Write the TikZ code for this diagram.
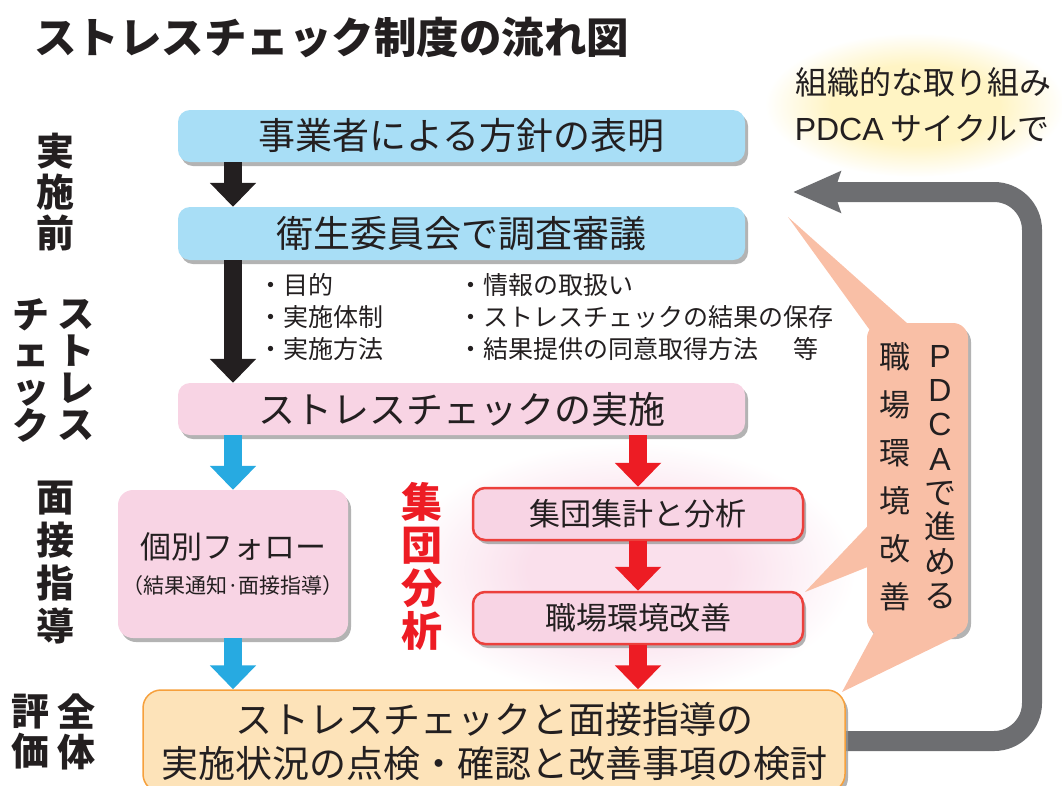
\documentclass[tikz,border=0pt]{standalone}
\usepackage{fontspec}
\setmainfont{Noto Sans CJK JP}
\newfontfamily\latinsans{Liberation Sans}
\usetikzlibrary{arrows.meta,shadows}
\definecolor{ink}{RGB}{35,31,32}
\definecolor{bluebox}{RGB}{168,222,246}
\definecolor{pinkbox}{RGB}{248,212,228}
\definecolor{redline}{RGB}{236,64,60}
\definecolor{arrred}{RGB}{237,28,36}
\definecolor{arrblue}{RGB}{39,170,225}
\definecolor{arrblack}{RGB}{35,31,32}
\definecolor{orfill}{RGB}{253,227,185}
\definecolor{orline}{RGB}{246,160,60}
\definecolor{salmon}{RGB}{249,191,166}
\definecolor{loopgrey}{RGB}{109,110,113}
\definecolor{glowyel}{RGB}{255,244,196}
\definecolor{glowpink}{RGB}{250,224,236}
\newcommand\fsz[1]{\fontsize{#1}{#1}\selectfont}
\pgfdeclareradialshading{glowy}{\pgfpointorigin}{color(0bp)=(glowyel); color(14bp)=(glowyel); color(25bp)=(white); color(50bp)=(white)}
\pgfdeclareradialshading{glowp}{\pgfpointorigin}{color(0bp)=(glowpink); color(11bp)=(glowpink); color(25bp)=(white); color(50bp)=(white)}
\pgfdeclarelayer{bg}
\pgfsetlayers{bg,main}
\tikzset{
  shadowed/.style={drop shadow={shadow xshift=3pt,shadow yshift=-4pt,fill=black!40,opacity=.75}},
  flowbox/.style={rounded corners=12pt, inner sep=0pt, text=ink, shadowed},
  blockarrow/.style={line width=18pt, -{Triangle[length=24pt,width=45pt]}},
  vlabel/.style={align=center, inner sep=0pt, text=ink},
  txt/.style={inner sep=0pt, text=ink},
}
\begin{document}
\begin{tikzpicture}[x=1pt,y=-1pt]
\useasboundingbox (0,0) rectangle (1062,785);

% title
\node[txt, anchor=west, font=\fsz{42.5}\bfseries] (title) at (34,38) {ストレスチェック制度の流れ図};

% top-right text
\node[txt, font=\fsz{32}] (tr1) at (923,82) {組織的な取り組み};
\node[txt, font=\fsz{32}] (tr2) at (922,128) {{\latinsans PDCA} サイクルで};

% main boxes
\node[flowbox, fill=bluebox, minimum width=567pt, minimum height=52pt, font=\fsz{37}] (b1) at (461.5,136) {事業者による方針の表明};
\node[flowbox, fill=bluebox, minimum width=567pt, minimum height=53pt, font=\fsz{37}] (b2) at (461.5,233.5) {衛生委員会で調査審議};
\node[flowbox, fill=pinkbox, minimum width=567pt, minimum height=52pt, font=\fsz{37}] (b3) at (461.5,409) {ストレスチェックの実施};

\node[flowbox, fill=pinkbox, rounded corners=15pt, minimum width=230pt, minimum height=148pt, align=center, font=\fontsize{21}{35}\selectfont] (ind) at (233,564) {{\fsz{31}個別フォロー}\\（結果通知·面接指導）};

\node[flowbox, fill=pinkbox, draw=redline, line width=2.5pt, minimum width=330pt, minimum height=52pt, font=\fsz{31}] (g1) at (638,514) {集団集計と分析};
\node[flowbox, fill=pinkbox, draw=redline, line width=2.5pt, minimum width=330pt, minimum height=52pt, font=\fsz{31}] (g2) at (638,618) {職場環境改善};

\node[flowbox, fill=orfill, draw=orline, line width=1.5pt, rounded corners=18pt, minimum width=702pt, minimum height=102pt, align=center, font=\fontsize{37}{44}\selectfont] (bot) at (494,741) {ストレスチェックと面接指導の\\実施状況の点検・確認と改善事項の検討};

% bullet lists
\node[txt, anchor=west, align=left, font=\fontsize{25}{32}\selectfont] (lstL) at (258,317) {・目的\\・実施体制\\・実施方法};
\node[txt, anchor=west, align=left, font=\fontsize{25}{32}\selectfont] (lstR) at (458,317) {・情報の取扱い\\・ストレスチェックの結果の保存\\・結果提供の同意取得方法　\hspace{10pt}等};

% PDCA callout
\node[shadowed, fill=salmon, rounded corners=15pt, minimum width=101pt, minimum height=312pt, inner sep=0pt] (pdca) at (917.5,479) {};
\fill[salmon] (788,217) -- (877,340) -- (926,340) -- cycle;
\fill[salmon] (805,592) -- (880,513) -- (880,562) -- cycle;
\fill[salmon] (842,692) -- (878,625) -- (957,625) -- (957,636) -- cycle;
\node[vlabel, font=\fontsize{32}{34.3}\selectfont] (pdcaR) at (940,477) {{\latinsans P}\\{\latinsans D}\\{\latinsans C}\\{\latinsans A}\\で\\進\\め\\る};
\node[vlabel, font=\fontsize{31}{48}\selectfont] (pdcaL) at (895,477) {職\\場\\環\\境\\改\\善};

% side labels
\node[vlabel, font=\fontsize{38}{41}\selectfont\bfseries] (lbl1) at (55,192) {実\\施\\前};
\node[vlabel, font=\fontsize{37}{37}\selectfont\bfseries] (lbl2a) at (76,370) {ス\\ト\\レ\\ス};
\node[vlabel, font=\fontsize{37}{37}\selectfont\bfseries] (lbl2b) at (31,370) {チ\\ェ\\ッ\\ク};
\node[vlabel, font=\fontsize{38}{43}\selectfont\bfseries] (lbl3) at (55,563) {面\\接\\指\\導};
\node[vlabel, font=\fontsize{38}{40}\selectfont\bfseries] (lbl4a) at (76,732) {全\\体};
\node[vlabel, font=\fontsize{38}{40}\selectfont\bfseries] (lbl4b) at (31,732) {評\\価};

\node[vlabel, text=arrred, font=\fontsize{41}{43}\selectfont\bfseries] (grp) at (422,566) {集\\団\\分\\析};

% block arrows
\coordinate (ax) at (233,0);
\coordinate (gx) at (638,0);
\draw[blockarrow, arrblack] (b1.south -| ax) -- (b2.north -| ax);
\draw[blockarrow, arrblack] (b2.south -| ax) -- (b3.north -| ax);
\draw[blockarrow, arrblue] (b3.south -| ax) -- (ind.north -| ax);
\draw[blockarrow, arrblue] (ind.south -| ax) -- (bot.north -| ax);
\draw[blockarrow, arrred] (b3.south -| gx) -- (g1.north -| gx);
\draw[blockarrow, arrred] (g1.south -| gx) -- (g2.north -| gx);
\draw[blockarrow, arrred] (g2.south -| gx) -- (bot.north -| gx);

% background: glows and PDCA loop
\coordinate (loopcorner) at (1032,192);
\coordinate (looptip) at (793,192);
\begin{pgfonlayer}{bg}
\shade[shading=glowy] (915,105) ellipse [x radius=150, y radius=72];
\shade[shading=glowp] (628,570) ellipse [x radius=228, y radius=128];
\draw[loopgrey, line width=20pt, rounded corners=38pt, -{Stealth[length=47pt,width=40pt,inset=6pt]}] (bot.east) -| (loopcorner) -- (looptip);
\end{pgfonlayer}
\end{tikzpicture}
\end{document}
